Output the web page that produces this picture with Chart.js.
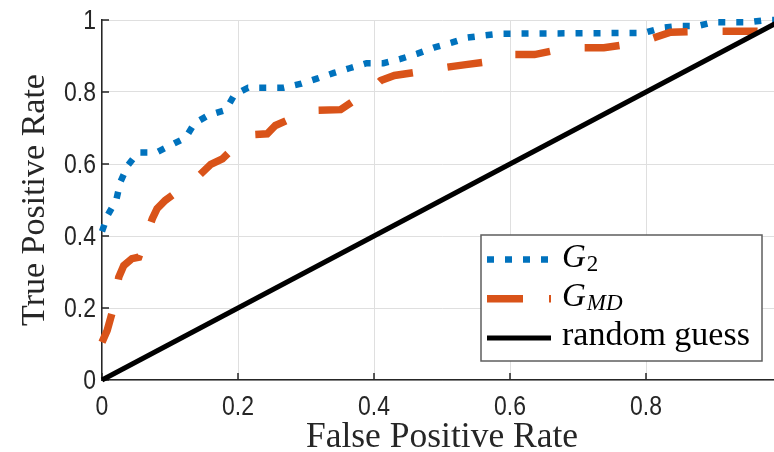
<!DOCTYPE html>
<html lang="en">
<head>
  <meta charset="UTF-8" />
  <title>ROC - G2 vs GMD</title>
  <script src="https://cdn.jsdelivr.net/npm/chart.js"></script>
  <style>
    html, body { margin: 0; padding: 0; background: #fff; overflow: hidden; }
    #wrap { width: 774px; height: 452px; overflow: hidden; }
  </style>
</head>
<body>
  <div id="wrap"><canvas id="roc" width="790" height="452"></canvas></div>

  <script>
    // ROC points (false positive rate -> true positive rate)
    const fprG2 = [0, 0.009, 0.021, 0.027, 0.038, 0.053, 0.080, 0.102, 0.123, 0.136, 0.157, 0.182, 0.195, 0.215,
                   0.267, 0.293, 0.316, 0.341, 0.364, 0.389, 0.414, 0.439, 0.463, 0.488, 0.514, 0.537, 0.562, 0.586,
                   0.797, 0.823, 0.848, 0.875, 0.900, 0.952, 0.977, 1];
    const tprG2 = [0.413, 0.46, 0.50, 0.55, 0.596, 0.632, 0.632, 0.653, 0.673, 0.713, 0.736, 0.75, 0.793, 0.812,
                   0.812, 0.823, 0.837, 0.853, 0.866, 0.88, 0.88, 0.892, 0.906, 0.923, 0.937, 0.951, 0.957, 0.962,
                   0.964, 0.978, 0.983, 0.983, 0.994, 0.994, 1, 1];

    const fprMD = [0, 0.0076, 0.015, 0.0247, 0.032, 0.044, 0.054, 0.074, 0.081, 0.093, 0.14, 0.16, 0.177, 0.2135,
                   0.243, 0.255, 0.305, 0.351, 0.397, 0.41, 0.43, 0.488, 0.508, 0.535, 0.586, 0.598, 0.636, 0.686,
                   0.738, 0.792, 0.814, 0.836, 0.892, 0.965, 1];
    const tprMD = [0.105, 0.1375, 0.188, 0.286, 0.318, 0.337, 0.341, 0.448, 0.476, 0.499, 0.563, 0.599, 0.614, 0.681,
                   0.684, 0.707, 0.749, 0.751, 0.809, 0.832, 0.846, 0.862, 0.869, 0.876, 0.889, 0.904, 0.904, 0.923,
                   0.923, 0.938, 0.952, 0.966, 0.969, 0.969, 1];

    const fprRandom = [0, 1];
    const tprRandom = [0, 1];

    const seriesLabels = ['G_2', 'G_{MD}', 'random guess'];
    const xTicks = [0, 0.2, 0.4, 0.6, 0.8];
    const xTickLabels = ['0', '0.2', '0.4', '0.6', '0.8'];
    const yTicks = [0, 0.2, 0.4, 0.6, 0.8, 1];
    const yTickLabels = ['0', '0.2', '0.4', '0.6', '0.8', '1'];
    const xTitle = 'False Positive Rate';
    const yTitle = 'True Positive Rate';

    const axisColor = '#262626';
    const serif = '"Liberation Serif", "Times New Roman", serif';
    const sans = '"Liberation Sans", Arial, sans-serif';
    const legendDashes = [[7, 11], [36, 26], []];

    const toPoints = (xs, ys) => xs.map((x, i) => ({ x, y: ys[i] }));

    // MATLAB style ticks pointing into the axes
    const innerTicks = {
      id: 'innerTicks',
      beforeDatasetsDraw(chart) {
        const { ctx, chartArea: a, scales: { x, y } } = chart;
        ctx.save();
        ctx.strokeStyle = axisColor;
        ctx.lineWidth = 1.5;
        ctx.beginPath();
        xTicks.forEach(v => {
          const px = x.getPixelForValue(v);
          ctx.moveTo(px, a.bottom);
          ctx.lineTo(px, a.bottom - 7);
        });
        yTicks.forEach(v => {
          const py = y.getPixelForValue(v);
          ctx.moveTo(a.left, py);
          ctx.lineTo(a.left + 7, py);
        });
        ctx.stroke();
        ctx.restore();
      }
    };

    // tick labels in a narrow helvetica look (squeezed horizontally)
    const tickLabels = {
      id: 'tickLabels',
      afterDraw(chart) {
        const { ctx, chartArea: a, scales: { x, y } } = chart;
        const squeeze = 0.82;
        ctx.save();
        ctx.fillStyle = axisColor;
        ctx.font = `28px ${sans}`;
        ctx.textBaseline = 'middle';
        ctx.textAlign = 'center';
        xTicks.forEach((v, i) => {
          ctx.save();
          ctx.translate(x.getPixelForValue(v), a.bottom + 27);
          ctx.scale(squeeze, 1);
          ctx.fillText(xTickLabels[i], 0, 0);
          ctx.restore();
        });
        ctx.textAlign = 'right';
        yTicks.forEach((v, i) => {
          ctx.save();
          ctx.translate(a.left - 6, y.getPixelForValue(v) + 1);
          ctx.scale(squeeze, 1);
          ctx.fillText(yTickLabels[i], 0, 0);
          ctx.restore();
        });
        ctx.restore();
      }
    };

    function drawLabel(ctx, label, x, baseline) {
      const m = label.match(/^(\w)_\{?(\w+)\}?$/);
      ctx.fillStyle = '#000';
      ctx.textBaseline = 'alphabetic';
      ctx.textAlign = 'left';
      if (m) {
        ctx.font = `italic 33px ${serif}`;
        ctx.fillText(m[1], x, baseline);
        const w = ctx.measureText(m[1]).width;
        ctx.font = `${/^\d+$/.test(m[2]) ? '' : 'italic '}23px ${serif}`;
        ctx.fillText(m[2], x + w + 1, baseline + 4);
      } else {
        ctx.font = `34px ${serif}`;
        ctx.fillText(label, x, baseline);
      }
    }

    const legendBox = {
      id: 'legendBox',
      afterDatasetsDraw(chart) {
        const { ctx, chartArea: a } = chart;
        const w = 281, h = 126;
        const left = a.right - 20 - w;
        const top = a.bottom - 19 - h;
        ctx.save();
        ctx.fillStyle = '#fff';
        ctx.fillRect(left, top, w, h);
        ctx.strokeStyle = '#5e5e5e';
        ctx.lineWidth = 1.5;
        ctx.strokeRect(left, top, w, h);
        chart.data.datasets.forEach((ds, i) => {
          const baseline = top + 32 + i * 39.2;
          ctx.beginPath();
          ctx.strokeStyle = ds.borderColor;
          ctx.lineWidth = ds.borderWidth;
          ctx.lineCap = 'butt';
          ctx.setLineDash(legendDashes[i]);
          ctx.moveTo(left + 6, baseline - 7.5);
          ctx.lineTo(left + 70, baseline - 7.5);
          ctx.stroke();
          ctx.setLineDash([]);
          drawLabel(ctx, seriesLabels[i], left + 81, baseline);
        });
        ctx.restore();
      }
    };

    new Chart(document.getElementById('roc'), {
      type: 'line',
      data: {
        datasets: [
          {
            label: seriesLabels[0],
            data: toPoints(fprG2, tprG2),
            borderColor: '#0072BD',
            borderWidth: 6.5,
            borderDash: [7, 11],
            borderCapStyle: 'butt',
            order: 3
          },
          {
            label: seriesLabels[1],
            data: toPoints(fprMD, tprMD),
            borderColor: '#D95319',
            borderWidth: 7.5,
            borderDash: [35, 35],
            borderDashOffset: 5,
            borderCapStyle: 'butt',
            order: 2
          },
          {
            label: seriesLabels[2],
            data: toPoints(fprRandom, tprRandom),
            borderColor: '#000000',
            borderWidth: 5,
            order: 1
          }
        ]
      },
      options: {
        responsive: false,
        animation: false,
        clip: false,
        elements: { point: { radius: 0 }, line: { tension: 0 } },
        layout: { padding: { left: 0, right: 8, top: 20, bottom: 0 } },
        plugins: { legend: { display: false }, tooltip: { enabled: false } },
        scales: {
          x: {
            type: 'linear',
            min: 0,
            max: 1,
            afterBuildTicks: s => { s.ticks = xTicks.map(v => ({ value: v })); },
            afterFit: s => { s.height = 72; },
            grid: { color: '#dfdfdf', lineWidth: 1, drawTicks: false },
            border: { display: true, color: axisColor, width: 1.5 },
            ticks: { display: false },
            title: {
              display: true,
              text: xTitle,
              color: axisColor,
              font: { family: serif, size: 35.5, lineHeight: 1 },
              padding: { top: 0, bottom: -3 }
            }
          },
          y: {
            type: 'linear',
            min: 0,
            max: 1,
            afterBuildTicks: s => { s.ticks = yTicks.map(v => ({ value: v })); },
            afterFit: s => { s.width = 102; },
            grid: { color: '#dfdfdf', lineWidth: 1, drawTicks: false },
            border: { display: true, color: axisColor, width: 1.5 },
            ticks: { display: false },
            title: {
              display: true,
              text: yTitle,
              color: axisColor,
              font: { family: serif, size: 34, lineHeight: 1 },
              padding: { top: 18, bottom: 0 }
            }
          }
        }
      },
      plugins: [innerTicks, legendBox, tickLabels]
    });
  </script>
</body>
</html>
